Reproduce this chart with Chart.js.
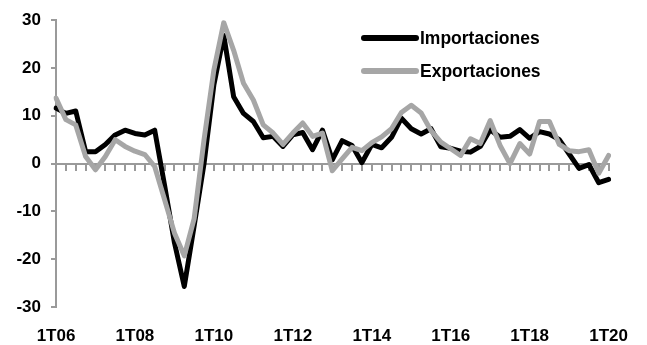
<!DOCTYPE html>
<html>
<head>
<meta charset="utf-8">
<script src="https://cdn.jsdelivr.net/npm/chart.js@4.4.1/dist/chart.umd.min.js"></script>
<style>
  html, body { margin: 0; padding: 0; background: #fff; }
  #wrap { position: relative; width: 647px; height: 345px; }
  .leg { position: absolute; left: 361px; height: 24px; display: flex; align-items: center;
         font: bold 17.5px "Liberation Sans", Arial, sans-serif; color: #000; }
  .leg span.sw { display: inline-block; width: 58px; height: 6px; margin-right: 1px; border-radius: 3px; }
</style>
</head>
<body>
<div id="wrap">
  <canvas id="chart" width="647" height="345"></canvas>
  <div class="leg" style="top:26px"><span class="sw" style="background:#000"></span>Importaciones</div>
  <div class="leg" style="top:59px"><span class="sw" style="background:#a6a6a6"></span>Exportaciones</div>
</div>
<script>
const quarters = [
  '1T06','2T06','3T06','4T06','1T07','2T07','3T07','4T07',
  '1T08','2T08','3T08','4T08','1T09','2T09','3T09','4T09',
  '1T10','2T10','3T10','4T10','1T11','2T11','3T11','4T11',
  '1T12','2T12','3T12','4T12','1T13','2T13','3T13','4T13',
  '1T14','2T14','3T14','4T14','1T15','2T15','3T15','4T15',
  '1T16','2T16','3T16','4T16','1T17','2T17','3T17','4T17',
  '1T18','2T18','3T18','4T18','1T19','2T19','3T19','4T19',
  '1T20'
];
const tickLabels = ['1T06','1T08','1T10','1T12','1T14','1T16','1T18','1T20'];

const importaciones = [
  11.6, 10.5, 11, 2.5, 2.5, 4, 6, 7,
  6.3, 6, 7, -4.5, -16.5, -25.7, -13, 0,
  16.5, 26.8, 14, 10.5, 8.8, 5.4, 5.7, 3.6,
  6, 6.5, 2.9, 7, 0.8, 4.8, 3.8, 0.2,
  4, 3.3, 5.5, 9.5, 7.3, 6.2, 7.3, 3.5,
  3.2, 2.6, 2.4, 3.6, 7.1, 5.5, 5.7, 7.1,
  5.3, 6.7, 6.2, 5, 2, -1, -0.2, -4,
  -3.3
];
const exportaciones = [
  13.7, 9.2, 8.1, 1.5, -1.3, 1.5, 5, 3.6,
  2.6, 1.9, -0.6, -7.5, -14.5, -19.3, -11.5, 5,
  19.6, 29.5, 23.7, 16.8, 13.3, 8.1, 6.4, 4,
  6.4, 8.5, 5.7, 6.4, -1.5, 1, 3.4, 2.7,
  4.4, 5.6, 7.3, 10.7, 12.2, 10.6, 6.9, 4.5,
  3.1, 1.7, 5.2, 4.2, 9, 3.8, 0, 4.2,
  2, 8.8, 8.8, 4, 2.7, 2.5, 2.9, -2,
  1.7
];

const fontFamily = '"Liberation Sans", Arial, sans-serif';
const axisGray = '#9a9a9a';

new Chart(document.getElementById('chart').getContext('2d'), {
  type: 'line',
  data: {
    labels: quarters,
    datasets: [
      { label: 'Importaciones', data: importaciones, borderColor: '#000', borderWidth: 5,
        pointRadius: 0, tension: 0, borderJoinStyle: 'round', borderCapStyle: 'round', order: 2 },
      { label: 'Exportaciones', data: exportaciones, borderColor: '#a6a6a6', borderWidth: 5,
        pointRadius: 0, tension: 0, borderJoinStyle: 'round', borderCapStyle: 'round', order: 1 }
    ]
  },
  options: {
    responsive: false,
    animation: false,
    layout: { padding: { top: 20, right: 35, bottom: 0, left: 0 } },
    plugins: { legend: { display: false }, tooltip: { enabled: false } },
    scales: {
      x: {
        type: 'category',
        position: { y: 0 },
        offset: false,
        ticks: { display: false, autoSkip: false },
        grid: { drawOnChartArea: false, drawTicks: true, tickLength: 6, color: axisGray, lineWidth: 2 },
        border: { color: axisGray, width: 2 },
        afterFit: (s) => { s.height = 0; }
      },
      xLabels: {
        type: 'category',
        position: 'bottom',
        labels: quarters,
        offset: false,
        grid: { display: false, drawTicks: false },
        border: { display: false },
        ticks: {
          autoSkip: false, maxRotation: 0, padding: 19, color: '#000',
          font: { family: fontFamily, size: 17, weight: 'bold' },
          callback: function (v) {
            const lab = this.getLabelForValue(v);
            return tickLabels.includes(lab) ? lab : '';
          }
        },
        afterFit: (s) => { s.height = 38; }
      },
      y: {
        min: -30, max: 30,
        ticks: { stepSize: 10, padding: 10, color: '#000',
          font: { family: fontFamily, size: 17, weight: 'bold' } },
        grid: { drawOnChartArea: false, tickLength: 5, color: axisGray, lineWidth: 2 },
        border: { color: axisGray, width: 2 },
        afterFit: (s) => { s.width = 56; }
      }
    }
  }
});
</script>
</body>
</html>
